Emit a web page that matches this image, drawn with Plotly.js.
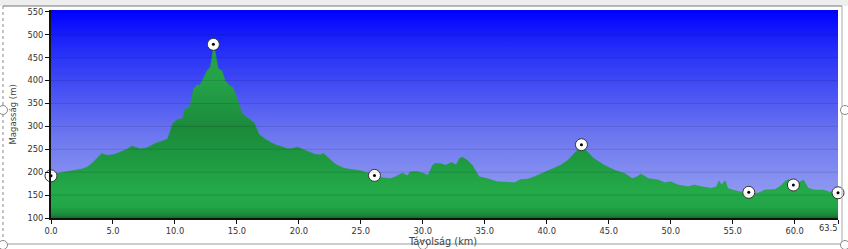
<!DOCTYPE html>
<html>
<head>
<meta charset="utf-8">
<script src="https://cdn.plot.ly/plotly-3.0.1.min.js"></script>
<style>
html,body{margin:0;padding:0;background:#fff;}
#chart{width:848px;height:249px;}
</style>
</head>
<body>
<div id="chart"></div>
<script>
// ---- data ----
const distanceKm = [0.0,0.5,1.0,1.6,2.1,2.5,2.9,3.3,3.7,4.1,4.5,5.0,5.4,5.8,6.2,6.5,6.8,7.2,7.7,8.1,8.5,9.0,9.4,9.6,9.8,10.2,10.6,10.8,11.2,11.5,11.8,12.0,12.3,12.6,12.85,13.05,13.15,13.3,13.5,13.8,14.05,14.4,14.7,14.9,15.1,15.4,15.7,16.1,16.4,16.8,17.1,17.4,17.8,18.2,18.6,19.1,19.5,19.9,20.3,20.7,21.3,21.7,22.0,22.3,22.55,22.8,23.1,23.6,24.0,24.4,25.0,25.5,26.1,26.7,27.4,27.8,28.35,28.75,29.0,29.6,30.1,30.4,30.8,30.95,31.4,31.85,32.3,32.7,32.95,33.2,33.6,34.0,34.3,34.55,35.2,36.0,36.8,37.4,37.9,38.5,39.0,39.8,40.6,41.1,41.7,42.2,42.8,43.3,43.8,44.65,45.5,46.3,46.9,47.3,47.6,48.2,49.0,49.5,50.0,50.6,51.4,51.9,52.5,53.3,53.7,53.9,54.1,54.4,54.6,55.0,55.6,56.3,57.05,57.6,58.4,58.8,59.2,59.5,59.9,60.4,60.7,61.1,61.6,62.3,62.8,63.5];
const elevationM = [192,197,200,203,206,207,211,219,230,241,237,238,242,246,251,257,254,251,253,258,264,268,273,288,306,315,317,338,343,382,391,389,404,422,429,465,478,455,426,422,400,389,385,370,352,330,322,315,308,282,275,270,264,259,256,251,252,255,250,245,239,238,241,233,226,221,215,209,207,206,203,199,193,188,186,190,198,192,201,201,197,193,215,219,219,215,221,216,230,233,226,215,201,190,186,179,178,177,184,185,190,199,208,215,226,241,258,244,230,215,204,197,186,190,196,186,183,177,179,172,168,172,168,165,168,181,172,181,165,161,157,155,154,161,162,168,179,184,175,178,183,165,161,161,157,155];

const waypointKm = [0.0, 13.1, 26.1, 42.8, 56.3, 59.9, 63.5];
const waypointM  = [192, 479, 193, 260, 156, 172, 155];

const xTickVals = [0,5,10,15,20,25,30,35,40,45,50,55,60,63.5];
const xTickText = ['0.0','5.0','10.0','15.0','20.0','25.0','30.0','35.0','40.0','45.0','50.0','55.0','60.0',''];
const yTickVals = [100,150,200,250,300,350,400,450,500,550];

const X_MIN = 0, X_MAX = 63.5, Y_MIN = 100, Y_MAX = 554;

// ---- layout geometry ----
const W = 848, H = 249, ML = 51, MR = 10, MT = 10, MB = 31;
const PW = W - ML - MR, PH = H - MT - MB;
const px = v => (v - ML) / PW;          // pixel x -> paper
const py = v => (H - MB - v) / PH;      // pixel y -> paper

const labelFont = {family: 'DejaVu Sans, Verdana, sans-serif', size: 8.3, color: '#333'};

const traces = [
  { // plot background gradient
    x: [X_MIN, X_MAX, X_MAX, X_MIN], y: [Y_MIN, Y_MIN, Y_MAX, Y_MAX],
    mode: 'none', fill: 'toself', hoverinfo: 'skip', showlegend: false,
    fillgradient: {type: 'vertical', start: Y_MIN, stop: Y_MAX,
      colorscale: [[0, '#9ea8f1'], [0.4, '#6c76ef'], [0.8, '#2630f7'], [1, '#0000ff']]}
  },
  { // elevation profile
    x: distanceKm, y: elevationM, mode: 'lines', fill: 'tozeroy',
    line: {color: '#1f9a42', width: 0.5}, hoverinfo: 'skip', showlegend: false,
    fillgradient: {type: 'vertical', start: Y_MIN, stop: Y_MAX,
      colorscale: [[0, '#136e2c'], [0.018, '#1b8c3b'], [0.055, '#22a547'], [0.13, '#24aa49'],
                   [0.22, '#20a044'], [0.33, '#1d943f'], [0.44, '#1b8a3a'], [0.53, '#1f9541'],
                   [0.66, '#25a248'], [0.79, '#28a048'], [1, '#249645']]}
  },
  { // waypoint circles
    x: waypointKm, y: waypointM, mode: 'markers', hoverinfo: 'skip', showlegend: false, cliponaxis: false,
    marker: {size: 12, color: '#ffffff', line: {color: '#333', width: 1}}
  },
  { // waypoint center dots
    x: waypointKm, y: waypointM, mode: 'markers', hoverinfo: 'skip', showlegend: false, cliponaxis: false,
    marker: {size: 3, color: '#000'}
  }
];

const shapes = [];
// gridlines drawn above the fill
yTickVals.filter(v => v > Y_MIN).forEach(v => shapes.push({
  type: 'line', xref: 'paper', yref: 'y', x0: 0, x1: 1, y0: v, y1: v,
  line: {color: 'rgba(0,0,40,0.13)', width: 1}, layer: 'above'
}));
// window frame
shapes.push({type: 'rect', xref: 'paper', yref: 'paper', x0: px(0), x1: px(848), y0: py(0), y1: py(6),
  fillcolor: '#eeeeee', line: {width: 0}, layer: 'above'});
shapes.push({type: 'line', xref: 'paper', yref: 'paper', x0: px(3), x1: px(842), y0: py(6), y1: py(6),
  line: {color: '#777', width: 1}});
shapes.push({type: 'line', xref: 'paper', yref: 'paper', x0: px(3), x1: px(3), y0: py(6), y1: py(244),
  line: {color: '#888', width: 1, dash: 'dot'}});
shapes.push({type: 'line', xref: 'paper', yref: 'paper', x0: px(3), x1: px(848), y0: py(244), y1: py(244),
  line: {color: '#999', width: 1}});
shapes.push({type: 'line', xref: 'paper', yref: 'paper', x0: px(842), x1: px(842), y0: py(6), y1: py(244),
  line: {color: '#aaa', width: 1}});
// resize handles
[[3,110],[3,245],[423,245],[845,110],[845,245]].forEach(([cx, cy]) => shapes.push({
  type: 'circle', xref: 'paper', yref: 'paper',
  x0: px(cx - 4.5), x1: px(cx + 4.5), y0: py(cy - 4.5), y1: py(cy + 4.5),
  fillcolor: '#ffffff', line: {color: '#888', width: 1}
}));

const layout = {
  width: W, height: H,
  margin: {l: ML, r: MR, t: MT, b: MB, pad: 0},
  paper_bgcolor: '#ffffff', plot_bgcolor: '#ffffff',
  showlegend: false,
  xaxis: {
    range: [X_MIN, X_MAX], tickmode: 'array', tickvals: xTickVals, ticktext: xTickText,
    ticks: 'outside', ticklen: 4, tickwidth: 1, tickcolor: '#111',
    showline: true, linecolor: '#111', linewidth: 2, showgrid: false, zeroline: false,
    tickfont: labelFont, fixedrange: true
  },
  yaxis: {
    range: [Y_MIN, Y_MAX], tickmode: 'array', tickvals: yTickVals,
    ticks: 'outside', ticklen: 4, tickwidth: 1, tickcolor: '#111',
    showline: true, linecolor: '#111', linewidth: 2, showgrid: false, zeroline: false,
    tickfont: labelFont, fixedrange: true
  },
  shapes: shapes,
  annotations: [
    {text: 'Magasság (m)', xref: 'paper', yref: 'paper', x: px(12.5), y: py(115),
     textangle: -90, showarrow: false, xanchor: 'center', yanchor: 'middle',
     font: {family: 'DejaVu Sans, Verdana, sans-serif', size: 8.5, color: '#444'}},
    {text: 'Távolság (km)', xref: 'paper', yref: 'paper', x: px(442), y: py(241),
     showarrow: false, xanchor: 'center', yanchor: 'middle',
     font: {family: 'DejaVu Sans, Verdana, sans-serif', size: 9.8, color: '#444'}},
    {text: '63.5', xref: 'x', yref: 'paper', x: X_MAX, y: py(228),
     showarrow: false, xanchor: 'right', yanchor: 'middle', xshift: 1,
     font: labelFont}
  ]
};

Plotly.newPlot('chart', traces, layout, {displayModeBar: false, staticPlot: true});
</script>
</body>
</html>
